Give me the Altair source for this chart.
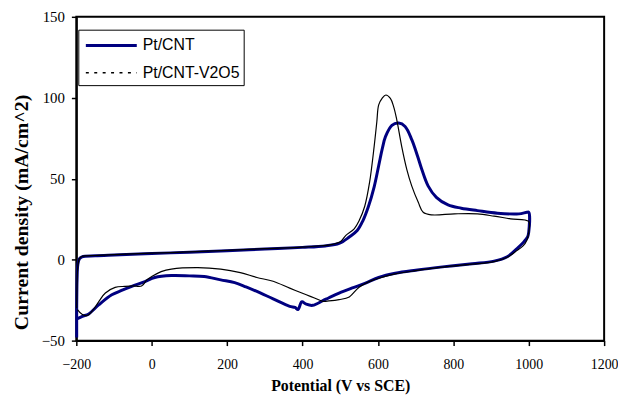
import altair as alt
import pandas as pd

# Pt/CNT (blue, thick) - one closed CV loop
blue_x = [-199, -199, -198, -196, -192, -185, -150, -100, 0, 100, 200, 300, 400, 460, 497, 524, 545,
          560, 575, 590, 602, 612, 620, 637, 655, 672, 690, 705, 716, 733, 755, 786, 821, 864, 917,
          974, 995, 1000, 1000, 997, 987, 969, 943, 908, 850, 777, 700, 646, 602, 567, 530, 497, 470,
          454, 427, 410, 399, 396, 388, 380, 366, 322, 279, 250, 220, 183, 139, 100, 52, 8, -18, -53,
          -80, -106, -140, -167, -184, -197]
blue_y = [-48, -30, -12, -3, 0.5, 1.8, 2.4, 2.9, 3.8, 4.6, 5.5, 6.6, 7.6, 8.5, 10, 14, 18,
          24, 33, 45, 58, 69, 76, 83, 84.4, 82.3, 74, 64, 56, 45.6, 38.5, 33.8, 31.8, 30.3, 28.7,
          28.3, 29.3, 29.3, 17, 14, 11, 6.9, 1.8, -0.9, -2.5, -4.3, -6.5, -8.4, -11, -14.5, -17.6, -20.6, -23.5,
          -25.3, -28.2, -27.5, -26, -26.5, -30.8, -29.5, -28.8, -24.2, -19.6, -16.8, -14.2, -12.5, -10.4, -10, -9.8, -11, -13.5, -16.5,
          -19, -21.7, -27.8, -33.5, -35, -36.5]

# Pt/CNT-V2O5 (black, thin)
black_x = [-199, -198, -196, -192, -185, -150, -100, 0, 100, 200, 300, 400, 450, 480, 500, 515, 537,
           550, 565, 578, 590, 597, 602, 611, 621, 633, 641.6, 650, 663, 676.5, 689.6, 707, 720, 742,
           803, 864, 908, 952, 1000, 1000, 995, 985, 965, 943, 908, 850, 777, 700, 646, 602, 585, 550,
           524, 497, 470, 454, 430, 410, 366, 322, 279, 235, 183, 122, 52, 25, 0, -13, -27, -50, -71,
           -97, -123, -140, -158, -171, -184, -197]
black_y = [-30, -15, -4, 0.5, 2, 2.6, 3.1, 4, 4.8, 5.7, 6.8, 7.8, 8.6, 9.5, 11, 15, 19,
           24, 33, 48, 70, 85, 95.6, 99.6, 101.7, 99.6, 94.5, 86.4, 70, 55.8, 45.6, 35.4, 29.3, 27.7,
           28.3, 28.3, 26.9, 25.2, 23.6, 17, 12, 8.5, 5, 1.5, -1.2, -2.8, -4.5, -6.8, -8.8, -11.5, -12.8, -17,
           -23, -24.7, -25.5, -25.7, -23.5, -21.7, -17.6, -13.3, -11, -8, -5.8, -4.9, -5.8, -7.4, -10.4, -12.5, -16.3, -16.2, -16.5,
           -17.1, -20.6, -25.7, -31.8, -34.5, -33.9, -30.8]

series_names = ["Pt/CNT", "Pt/CNT-V2O5"]
series_colors = ["#000080", "#000000"]
x_ticks = [-200, 0, 200, 400, 600, 800, 1000, 1200]
y_ticks = [-50, 0, 50, 100, 150]

blue = pd.DataFrame({"x": blue_x, "y": blue_y, "series": series_names[0], "o": range(len(blue_x))})
black = pd.DataFrame({"x": black_x, "y": black_y, "series": series_names[1], "o": range(len(black_x))})
df = pd.concat([blue, black], ignore_index=True)

xs = alt.Scale(domain=[-200, 1200], nice=False)
ys = alt.Scale(domain=[-50, 150], nice=False)

xenc = alt.X("x:Q", scale=xs, axis=alt.Axis(
    title="Potential (V vs SCE)", values=x_ticks, format="d", grid=False, labelFlush=False,
    labelFont="Liberation Serif",
    labelFontSize=14, labelColor="black", labelPadding=12, titleFont="Liberation Serif",
    titleFontSize=16, titleFontWeight="bold", titleColor="black", titlePadding=6,
    domainColor="black", domainWidth=2, tickColor="black", tickWidth=1.5, tickSize=5))
yenc = alt.Y("y:Q", scale=ys, axis=alt.Axis(
    title="Current density (mA/cm^2)", values=y_ticks, grid=False, labelFlush=False,
    labelFont="Liberation Serif",
    labelFontSize=15, labelColor="black", labelPadding=7, titleFont="Liberation Serif",
    titleFontSize=20, titleFontWeight="bold", titleColor="black", titlePadding=10, titleY=197,
    domainColor="black", domainWidth=2, tickColor="black", tickWidth=1.5, tickSize=5))

blue_line = alt.Chart(blue).mark_line(color=series_colors[0], strokeWidth=3,
                                      interpolate="catmull-rom").encode(x=xenc, y=yenc, order="o:Q")
black_line = alt.Chart(black).mark_line(color=series_colors[1], strokeWidth=1.2,
                                        interpolate="catmull-rom").encode(x=xenc, y=yenc, order="o:Q")

legend = alt.Legend(title=None, orient="none", legendX=2, legendY=13,
                    symbolType="M-0.8,0H4.1", symbolSize=441,
                    labelFont="Liberation Sans", labelFontSize=16, labelColor="black",
                    labelOffset=37, padding=4, rowPadding=8,
                    strokeColor="black", fillColor="white")

legend_layer = alt.Chart(df).transform_filter("false").mark_line().encode(
    x=xenc, y=yenc,
    color=alt.Color("series:N", scale=alt.Scale(domain=series_names, range=series_colors), legend=legend),
    strokeDash=alt.StrokeDash("series:N", scale=alt.Scale(domain=series_names, range=[[1, 0], [3, 5.5]]), legend=legend),
    strokeWidth=alt.StrokeWidth("series:N", scale=alt.Scale(domain=series_names, range=[3, 1.5]), legend=legend),
)

chart = alt.layer(blue_line, black_line, legend_layer).properties(
    width=533, height=327,
    padding={"left": 3, "top": 0, "right": 0, "bottom": 0},
    background="white",
).configure_view(stroke="black", strokeWidth=2)

chart.save("out.html", embed_options={"renderer": "svg", "actions": False})
